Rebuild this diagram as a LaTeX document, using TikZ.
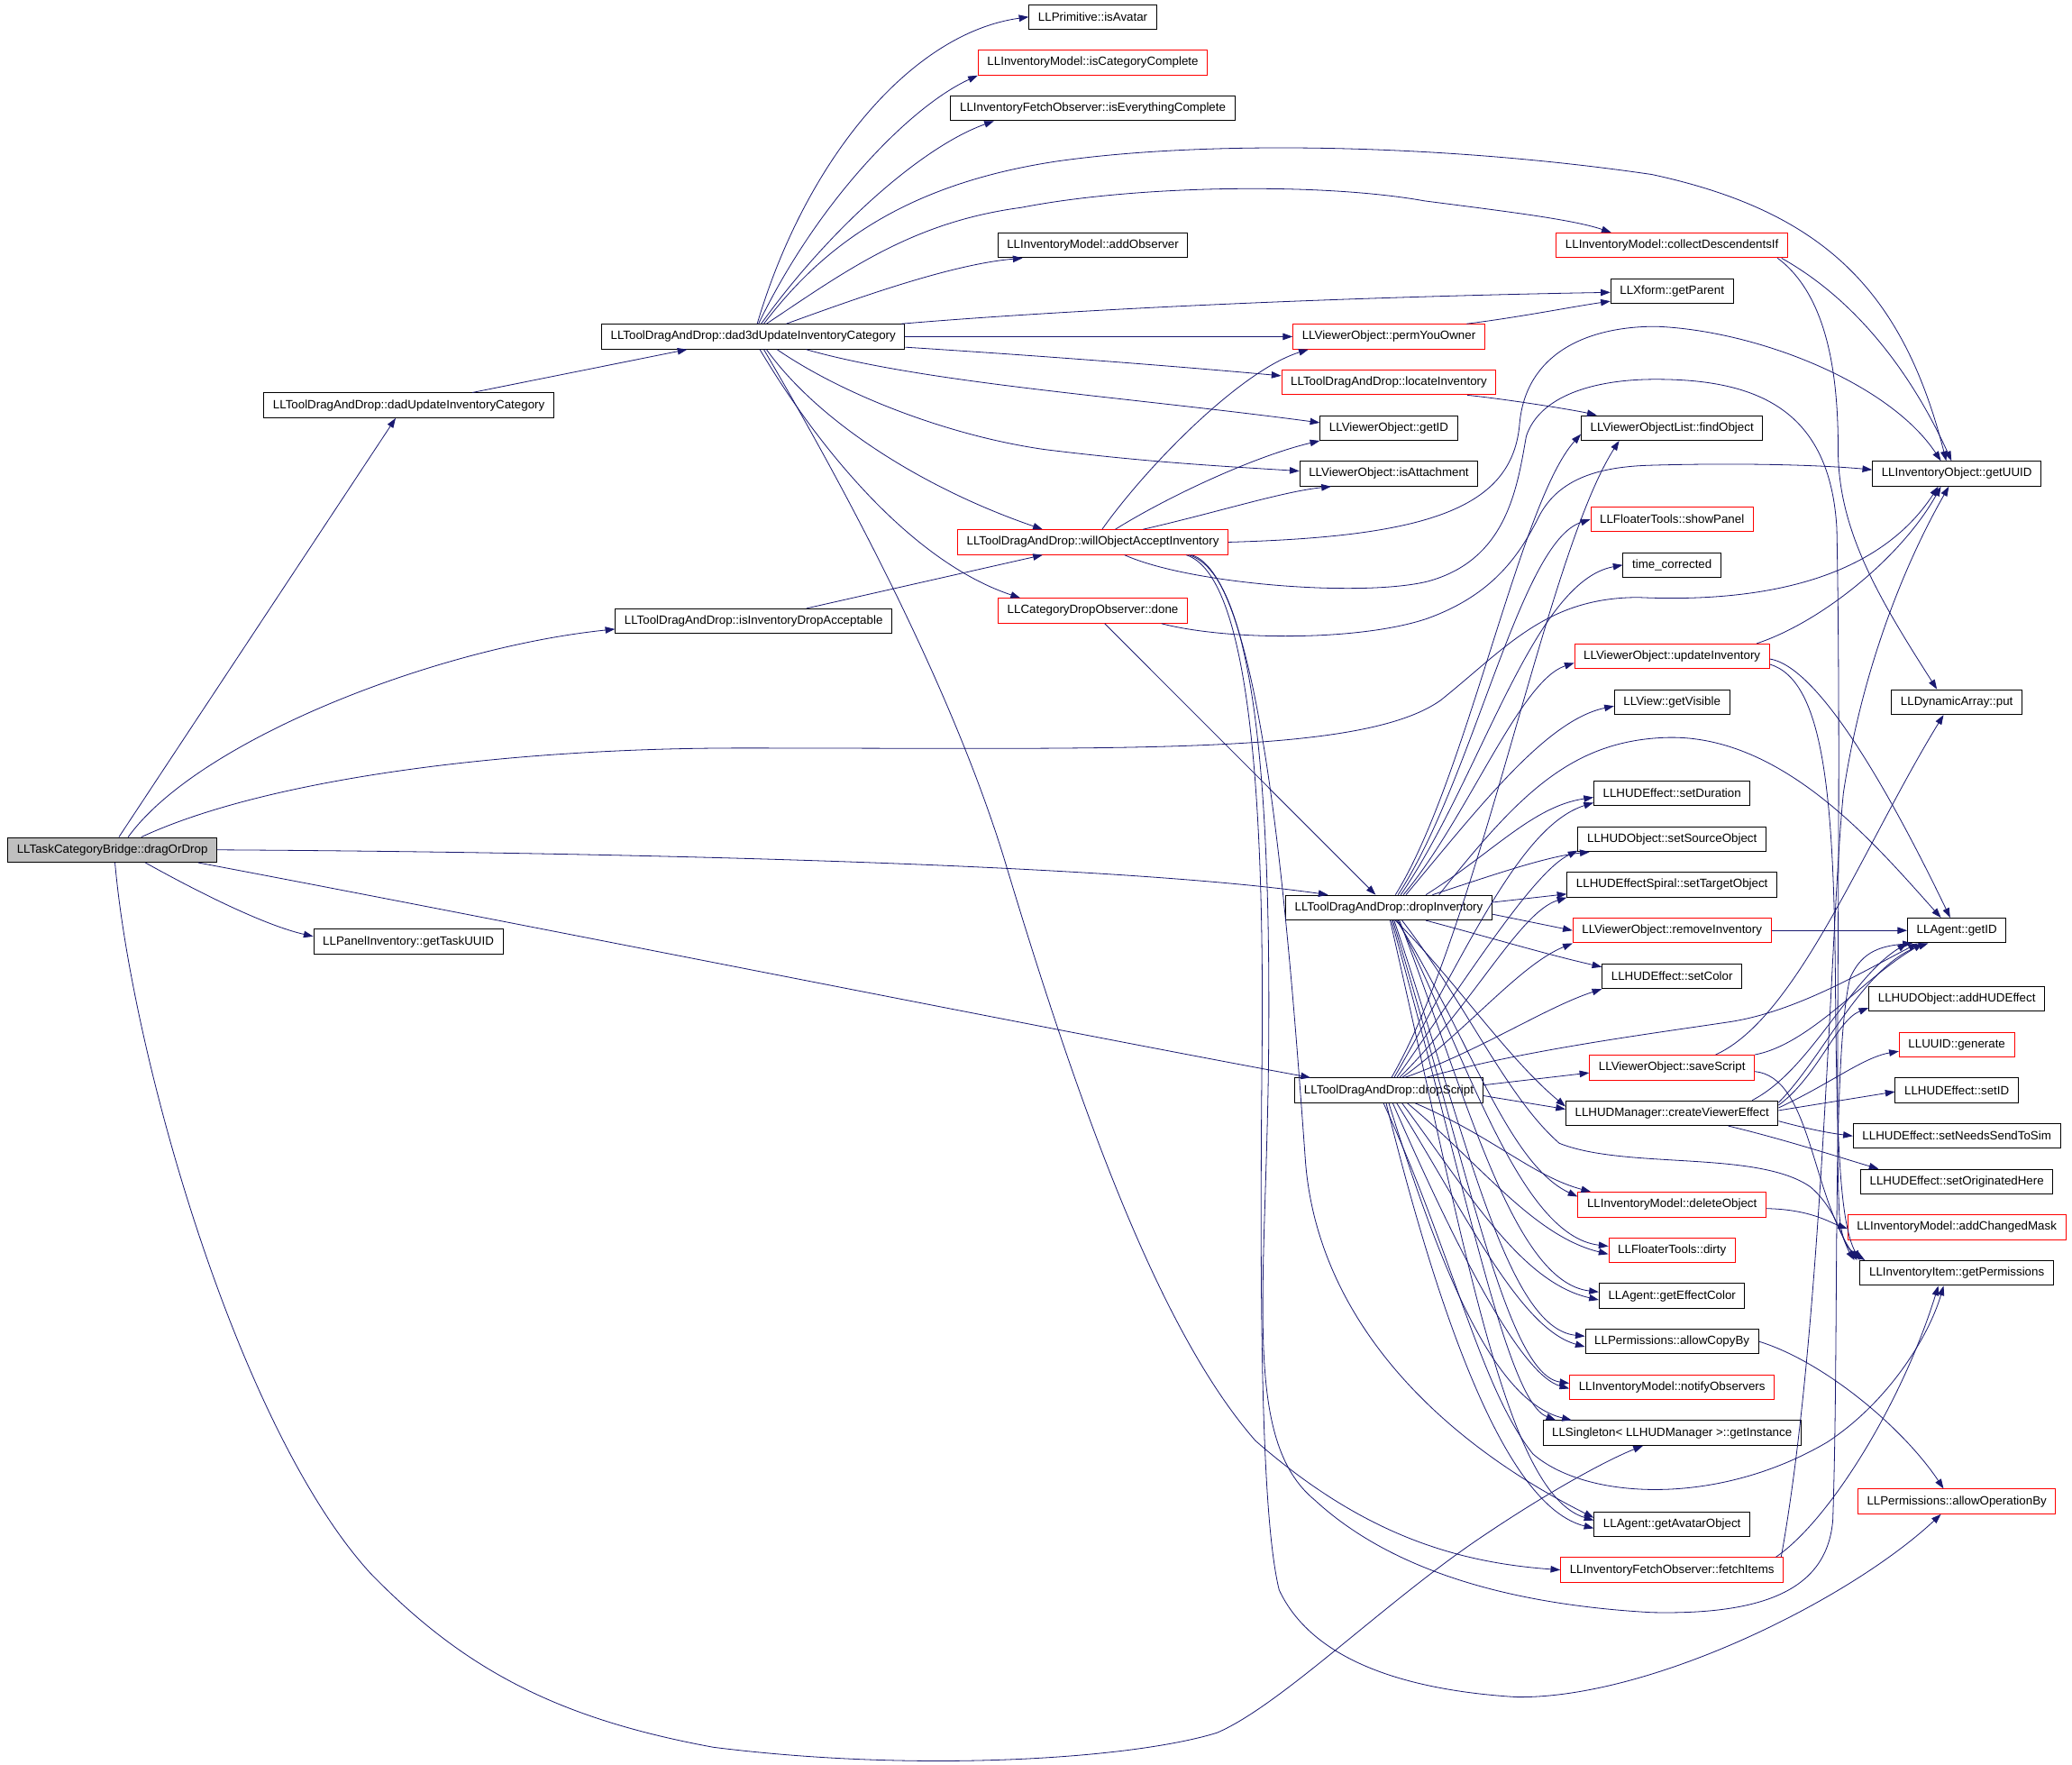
\documentclass[tikz,border=0pt]{standalone}
\usepackage{fontspec}
\setmainfont{Liberation Sans}
\usetikzlibrary{arrows.meta,calc}
\definecolor{edgeblue}{HTML}{191970}
\definecolor{rootgray}{HTML}{BFBFBF}
\begin{document}
\begin{tikzpicture}[x=1.0997pt,y=-1.0997pt,
  fn/.style={draw=black, line width=0.75pt, font=\fontsize{10}{12}\selectfont, inner xsep=7.6pt, inner ysep=0pt, minimum height=20.6pt, anchor=center},
  fnr/.style={fn, draw=red},
  rootfn/.style={fn, fill=rootgray},
  e/.style={draw=edgeblue, line width=0.6pt, -{Triangle[length=8pt,width=5.6pt]}}]
\fill[white] (0,0) rectangle (1568,1335);
\path[use as bounding box] (0,0) rectangle (1568,1335);
% ---------------- nodes
\node[rootfn] (dragOrDrop) at (85,643) {LLTaskCategoryBridge::dragOrDrop};
\node[fn] (dadUpd) at (309.4,306.7) {LLToolDragAndDrop::dadUpdateInventoryCategory};
\node[fn] (dad3d) at (570,254.7) {LLToolDragAndDrop::dad3dUpdateInventoryCategory};
\node[fn] (isDropAcc) at (570.3,470) {LLToolDragAndDrop::isInventoryDropAcceptable};
\node[fn] (taskUUID) at (309,712.5) {LLPanelInventory::getTaskUUID};
% column 3
\node[fn] (isAvatar) at (827,12.8) {LLPrimitive::isAvatar};
\node[fnr] (isCatComp) at (827,47.4) {LLInventoryModel::isCategoryComplete};
\node[fn] (isEvery) at (827,81.9) {LLInventoryFetchObserver::isEverythingComplete};
\node[fn] (addObs) at (827,185.6) {LLInventoryModel::addObserver};
\node[fnr] (willObj) at (827,410.2) {LLToolDragAndDrop::willObjectAcceptInventory};
\node[fnr] (done) at (827,462.1) {LLCategoryDropObserver::done};
% column 4
\node[fnr] (permYou) at (1051,254.7) {LLViewerObject::permYouOwner};
\node[fnr] (locateInv) at (1051,289.3) {LLToolDragAndDrop::locateInventory};
\node[fn] (voGetID) at (1051,323.8) {LLViewerObject::getID};
\node[fn] (isAttach) at (1051,358.4) {LLViewerObject::isAttachment};
\node[fn] (dropInv) at (1051,686.7) {LLToolDragAndDrop::dropInventory};
\node[fn] (dropScr) at (1051,825) {LLToolDragAndDrop::dropScript};
% column 5
\node[fnr] (collect) at (1265.3,185.6) {LLInventoryModel::collectDescendentsIf};
\node[fn] (getParent) at (1265.3,220.2) {LLXform::getParent};
\node[fn] (findObj) at (1265.3,323.8) {LLViewerObjectList::findObject};
\node[fnr] (showPanel) at (1265.3,393) {LLFloaterTools::showPanel};
\node[fn] (timeCorr) at (1265.3,427.5) {time\_corrected};
\node[fnr] (updInv) at (1265.3,496.6) {LLViewerObject::updateInventory};
\node[fn] (getVis) at (1265.3,531.2) {LLView::getVisible};
\node[fn] (setDur) at (1265.3,600.3) {LLHUDEffect::setDuration};
\node[fn] (setSrc) at (1265.3,634.9) {LLHUDObject::setSourceObject};
\node[fn] (setTgt) at (1265.3,669.4) {LLHUDEffectSpiral::setTargetObject};
\node[fnr] (remInv) at (1265.3,704) {LLViewerObject::removeInventory};
\node[fn] (setColor) at (1265.3,738.6) {LLHUDEffect::setColor};
\node[fnr] (saveScr) at (1265.3,807.7) {LLViewerObject::saveScript};
\node[fn] (createVE) at (1265.3,842.2) {LLHUDManager::createViewerEffect};
\node[fnr] (delObj) at (1265.3,911.4) {LLInventoryModel::deleteObject};
\node[fnr] (dirty) at (1265.3,945.9) {LLFloaterTools::dirty};
\node[fn] (effColor) at (1265.3,980.5) {LLAgent::getEffectColor};
\node[fn] (allowCopy) at (1265.3,1015) {LLPermissions::allowCopyBy};
\node[fnr] (notify) at (1265.3,1049.6) {LLInventoryModel::notifyObservers};
\node[fn] (getInst) at (1265.3,1084.2) {LLSingleton< LLHUDManager >::getInstance};
\node[fn] (avatarObj) at (1265.3,1153.3) {LLAgent::getAvatarObject};
\node[fnr] (fetch) at (1265.3,1187.8) {LLInventoryFetchObserver::fetchItems};
% column 6
\node[fn] (getUUID) at (1480.8,358.4) {LLInventoryObject::getUUID};
\node[fn] (put) at (1480.8,531.2) {LLDynamicArray::put};
\node[fn] (agentID) at (1480.8,704) {LLAgent::getID};
\node[fn] (addHUD) at (1480.8,755.8) {LLHUDObject::addHUDEffect};
\node[fnr] (generate) at (1480.8,790.4) {LLUUID::generate};
\node[fn] (setID) at (1480.8,825) {LLHUDEffect::setID};
\node[fn] (needsSend) at (1480.8,859.5) {LLHUDEffect::setNeedsSendToSim};
\node[fn] (origHere) at (1480.8,894.1) {LLHUDEffect::setOriginatedHere};
\node[fnr] (changed) at (1480.8,928.6) {LLInventoryModel::addChangedMask};
\node[fn] (getPerm) at (1480.8,963.2) {LLInventoryItem::getPermissions};
\node[fnr] (allowOp) at (1480.8,1136) {LLPermissions::allowOperationBy};
% ---------------- edges: root
\draw[e] ($(dragOrDrop.north)+(5,0)$) -- ($(dadUpd.south)+(-10,0)$);
\draw[e] ($(dragOrDrop.north)+(12,0)$) .. controls (150,560) and (330,490) .. ($(isDropAcc.west)+(0,6)$);
\draw[e] ($(dragOrDrop.north)+(22,0)$) .. controls (200,590) and (380,566) .. (560,566) .. controls (850,566) and (1030,572) .. (1090,530) .. controls (1140,490) and (1170,452) .. (1240,452) .. controls (1330,456) and (1420,440) .. ($(getUUID.south)+(-14,0)$);
\draw[e] (dragOrDrop.east) .. controls (500,645) and (850,655) .. ($(dropInv.north)+(-46,0)$);
\draw[e] ($(dragOrDrop.south)+(25,0)$) .. controls (150,675) and (200,700) .. ($(taskUUID.west)+(0,-4)$);
\draw[e] ($(dragOrDrop.south)+(65,0)$) .. controls (400,700) and (800,780) .. ($(dropScr.north west)+(12,0)$);
\draw[e] ($(dragOrDrop.south)+(2,0)$) .. controls (100,800) and (180,1080) .. (280,1190) .. controls (350,1262) and (420,1300) .. (540,1322) .. controls (700,1342) and (860,1330) .. (921,1311) .. controls (970,1290) and (1050,1210) .. (1124,1161) .. controls (1170,1130) and (1215,1105) .. ($(getInst.south)+(-22,0)$);
% dadUpd, isDropAcc
\draw[e] ($(dadUpd.north)+(48,0)$) -- ($(dad3d.south)+(-50,0)$);
\draw[e] ($(isDropAcc.north)+(40,0)$) -- ($(willObj.south)+(-38,0)$);
% dad3d
\draw[e] ($(dad3d.north)+(3,0)$) .. controls (610,120) and (690,25) .. (isAvatar.west);
\draw[e] ($(dad3d.north)+(4,0)$) .. controls (620,150) and (690,80) .. (isCatComp.south west);
\draw[e] ($(dad3d.north)+(6,0)$) .. controls (630,170) and (700,110) .. ($(isEvery.south west)+(33,0)$);
\draw[e] ($(dad3d.north)+(8,0)$) .. controls (620,190) and (680,140) .. (800,122) .. controls (920,105) and (1100,110) .. (1250,132) .. controls (1380,160) and (1440,220) .. ($(getUUID.north)+(-8,0)$);
\draw[e] ($(dad3d.north)+(10,0)$) .. controls (640,205) and (690,168) .. (773,157) .. controls (860,140) and (1000,138) .. (1078,152) .. controls (1140,160) and (1190,166) .. ($(collect.north)+(-46,0)$);
\draw[e] ($(dad3d.north)+(25,0)$) .. controls (650,225) and (720,200) .. ($(addObs.south west)+(19,0)$);
\draw[e] ($(dad3d.north east)+(-3,0)$) .. controls (800,235) and (1000,225) .. ($(getParent.west)+(0,1)$);
\draw[e] (dad3d.east) -- (permYou.west);
\draw[e] ($(dad3d.east)+(0,8)$) .. controls (800,270) and (900,278) .. ($(locateInv.west)+(0,-5)$);
\draw[e] ($(dad3d.south)+(40,0)$) .. controls (700,290) and (850,300) .. ($(voGetID.west)+(0,-4)$);
\draw[e] ($(dad3d.south)+(18,0)$) .. controls (640,300) and (720,330) .. (790,340) .. controls (870,350) and (930,353) .. ($(isAttach.west)+(0,-2)$);
\draw[e] ($(dad3d.south)+(10,0)$) .. controls (620,320) and (700,370) .. ($(willObj.north)+(-38,0)$);
\draw[e] ($(dad3d.south)+(5,0)$) .. controls (620,340) and (690,425) .. ($(done.north west)+(17,0)$);
\draw[e] ($(dad3d.south)+(8,0)$) .. controls (640,370) and (720,520) .. (760,650) .. controls (820,850) and (880,1010) .. (950,1090) .. controls (1030,1160) and (1100,1182) .. (fetch.west);
% willObj
\draw[e] ($(willObj.north)+(7,0)$) .. controls (870,350) and (940,280) .. ($(permYou.south west)+(12,0)$);
\draw[e] ($(willObj.north)+(17,0)$) .. controls (885,375) and (950,345) .. (voGetID.south west);
\draw[e] ($(willObj.north)+(38,0)$) .. controls (920,388) and (970,372) .. ($(isAttach.south west)+(24,0)$);
\draw[e] (willObj.east) .. controls (1080,406) and (1145,385) .. (1150,320) .. controls (1155,268) and (1200,247) .. (1253,247) .. controls (1330,250) and (1430,290) .. ($(getUUID.north)+(-12,0)$);
\draw[e] ($(willObj.south)+(24,0)$) .. controls (900,442) and (1030,452) .. (1080,440) .. controls (1140,424) and (1148,370) .. (1155,330) .. controls (1165,300) and (1205,287) .. (1253,287) .. controls (1330,287) and (1385,310) .. (1390,400) .. controls (1394,600) and (1388,850) .. (1392,920) .. controls (1394,940) and (1398,945) .. ($(getPerm.north west)+(4,0)$);
\draw[e] ($(willObj.south east)+(-32,0)$) .. controls (945,435) and (957,600) .. (955,800) .. controls (953,1000) and (955,1150) .. (968,1203) .. controls (990,1250) and (1050,1278) .. (1148,1284) .. controls (1250,1285) and (1400,1210) .. ($(allowOp.south)+(-12,0)$);
\draw[e] ($(willObj.south east)+(-30,0)$) .. controls (950,435) and (962,600) .. (960,800) .. controls (958,980) and (940,1090) .. (995,1135) .. controls (1060,1195) and (1160,1215) .. (1250,1220) .. controls (1340,1222) and (1383,1200) .. (1387,1150) .. controls (1392,1000) and (1386,800) .. (1400,740) .. controls (1408,722) and (1420,716) .. ($(agentID.south west)+(4,0)$);
\draw[e] ($(willObj.south east)+(-28,0)$) .. controls (955,435) and (975,700) .. (988,880) .. controls (998,1000) and (1090,1090) .. ($(avatarObj.west)+(0,-5)$);
% done
\draw[e] ($(done.south)+(9,0)$) -- ($(dropInv.north)+(-10,0)$);
\draw[e] ($(done.south east)+(-20,0)$) .. controls (930,485) and (1030,485) .. (1080,468) .. controls (1130,450) and (1150,420) .. (1165,390) .. controls (1180,362) and (1210,353) .. (1250,352) .. controls (1320,350) and (1380,352) .. ($(getUUID.west)+(0,-3)$);
% permYou, locateInv
\draw[e] ($(permYou.north east)+(-14,0)$) .. controls (1150,240) and (1190,232) .. ($(getParent.south west)+(0,-2)$);
\draw[e] ($(locateInv.south east)+(-22,0)$) .. controls (1140,302) and (1190,310) .. ($(findObj.north west)+(12,0)$);
% dropInv
\draw[e] ($(dropInv.north)+(5,0)$) .. controls (1110,590) and (1150,380) .. ($(findObj.south west)+(0,-5)$);
\draw[e] ($(dropInv.north)+(7,0)$) .. controls (1115,590) and (1150,410) .. (showPanel.west);
\draw[e] ($(dropInv.north)+(9,0)$) .. controls (1120,590) and (1160,440) .. (timeCorr.west);
\draw[e] ($(dropInv.north)+(11,0)$) .. controls (1110,620) and (1150,515) .. ($(updInv.west)+(0,5)$);
\draw[e] ($(dropInv.north)+(13,0)$) .. controls (1120,610) and (1170,545) .. ($(getVis.west)+(0,3)$);
\draw[e] ($(dropInv.north)+(28,0)$) .. controls (1130,645) and (1160,610) .. ($(setDur.west)+(0,3)$);
\draw[e] ($(dropInv.north)+(33,0)$) .. controls (1130,662) and (1170,648) .. ($(setSrc.south west)+(9,0)$);
\draw[e] ($(dropInv.north)+(38,0)$) .. controls (1150,600) and (1190,560) .. (1262,558) .. controls (1350,556) and (1420,640) .. ($(agentID.north)+(-12,0)$);
\draw[e] ($(dropInv.east)+(0,-4)$) -- ($(setTgt.west)+(0,7)$);
\draw[e] ($(dropInv.east)+(0,5)$) -- (remInv.west);
\draw[e] ($(dropInv.south)+(28,0)$) .. controls (1130,710) and (1170,722) .. ($(setColor.west)+(0,-7)$);
\draw[e] ($(dropInv.south)+(5,0)$) .. controls (1100,740) and (1140,800) .. ($(createVE.west)+(0,-5)$);
\draw[e] ($(dropInv.south)+(6,0)$) .. controls (1110,780) and (1140,880) .. ($(delObj.west)+(0,-6)$);
\draw[e] ($(dropInv.south)+(7,0)$) .. controls (1110,800) and (1150,935) .. ($(dirty.west)+(0,-3)$);
\draw[e] ($(dropInv.south)+(8,0)$) .. controls (1110,830) and (1145,970) .. ($(effColor.west)+(0,-3)$);
\draw[e] ($(dropInv.south)+(4,0)$) .. controls (1110,860) and (1140,1005) .. ($(allowCopy.west)+(0,-4)$);
\draw[e] ($(dropInv.south)+(3,0)$) .. controls (1110,880) and (1140,1040) .. ($(notify.west)+(0,-3)$);
\draw[e] ($(dropInv.south)+(2,0)$) .. controls (1110,900) and (1140,1060) .. ($(getInst.north west)+(10,0)$);
\draw[e] ($(dropInv.south)+(1,0)$) .. controls (1110,950) and (1140,1130) .. ($(avatarObj.west)+(0,-3)$);
\draw[e] ($(dropInv.south)+(10,0)$) .. controls (1110,760) and (1140,830) .. (1180,865) .. controls (1230,885) and (1330,870) .. (1370,898) .. controls (1390,915) and (1395,940) .. ($(getPerm.north west)+(-4,0)$);
% dropScr
\draw[e] ($(dropScr.north)+(2,0)$) .. controls (1120,700) and (1170,420) .. ($(findObj.south west)+(29,0)$);
\draw[e] ($(dropScr.north)+(4,0)$) .. controls (1110,720) and (1150,625) .. ($(setDur.west)+(0,7)$);
\draw[e] ($(dropScr.north)+(6,0)$) .. controls (1110,740) and (1160,660) .. ($(setSrc.south west)+(0,-1)$);
\draw[e] ($(dropScr.north)+(8,0)$) .. controls (1115,760) and (1150,690) .. (setTgt.south west);
\draw[e] ($(dropScr.north)+(10,0)$) .. controls (1110,780) and (1150,730) .. (remInv.south west);
\draw[e] ($(dropScr.north)+(12,0)$) .. controls (1120,795) and (1170,762) .. (setColor.south west);
\draw[e] ($(dropScr.north)+(28,0)$) .. controls (1150,795) and (1250,782) .. (1310,773) .. controls (1360,765) and (1410,735) .. ($(agentID.south west)+(8,0)$);
\draw[e] ($(dropScr.east)+(0,-4)$) -- ($(saveScr.west)+(0,4)$);
\draw[e] ($(dropScr.east)+(0,4)$) -- ($(createVE.west)+(0,-3)$);
\draw[e] ($(dropScr.south)+(20,0)$) .. controls (1130,860) and (1160,890) .. ($(delObj.north west)+(10,0)$);
\draw[e] ($(dropScr.south)+(14,0)$) .. controls (1120,880) and (1160,935) .. ($(dirty.west)+(0,3)$);
\draw[e] ($(dropScr.south)+(10,0)$) .. controls (1110,900) and (1150,970) .. ($(effColor.west)+(0,3)$);
\draw[e] ($(dropScr.south)+(6,0)$) .. controls (1110,920) and (1150,1005) .. ($(allowCopy.west)+(0,4)$);
\draw[e] ($(dropScr.south)+(3,0)$) .. controls (1100,940) and (1150,1040) .. ($(notify.west)+(0,1)$);
\draw[e] (dropScr.south) .. controls (1090,960) and (1130,1060) .. ($(getInst.north west)+(22,0)$);
\draw[e] ($(dropScr.south)+(-2,0)$) .. controls (1090,1000) and (1140,1140) .. ($(avatarObj.west)+(0,3)$);
\draw[e] ($(dropScr.south)+(-4,0)$) .. controls (1100,950) and (1120,1050) .. (1160,1100) .. controls (1200,1135) and (1300,1140) .. (1383,1091) .. controls (1430,1060) and (1460,1010) .. ($(getPerm.south)+(-10,0)$);
% createVE
\draw[e] ($(createVE.east)+(0,-6)$) .. controls (1375,815) and (1390,772) .. ($(addHUD.south west)+(0,-3)$);
\draw[e] ($(createVE.east)+(0,-4)$) .. controls (1385,820) and (1410,800) .. ($(generate.west)+(0,5)$);
\draw[e] ($(createVE.east)+(0,-2)$) -- ($(setID.west)+(0,1)$);
\draw[e] ($(createVE.east)+(0,6)$) .. controls (1375,856) and (1390,858) .. (needsSend.west);
\draw[e] ($(createVE.south east)+(-38,0)$) .. controls (1350,862) and (1390,875) .. ($(origHere.north west)+(14,0)$);
\draw[e] ($(createVE.north east)+(-20,0)$) .. controls (1370,810) and (1400,740) .. (agentID.south west);
\draw[e] ($(createVE.east)+(0,-8)$) .. controls (1380,800) and (1410,730) .. ($(agentID.south west)+(16,0)$);
% saveScr
\draw[e] ($(saveScr.north)+(33,0)$) .. controls (1360,770) and (1410,640) .. ($(put.south)+(-10,0)$);
\draw[e] (saveScr.north east) .. controls (1370,790) and (1410,740) .. ($(agentID.south west)+(12,0)$);
\draw[e] ($(saveScr.east)+(0,3)$) .. controls (1370,815) and (1370,900) .. ($(getPerm.north west)+(-2,0)$);
% updInv
\draw[e] ($(updInv.north east)+(-10,0)$) .. controls (1380,470) and (1440,420) .. ($(getUUID.south)+(-12,0)$);
\draw[e] ($(updInv.east)+(0,2)$) .. controls (1380,505) and (1440,620) .. ($(agentID.north)+(-5,0)$);
\draw[e] ($(updInv.east)+(0,6)$) .. controls (1380,515) and (1388,600) .. (1389,750) .. controls (1390,860) and (1392,925) .. (getPerm.north west);
% misc
\draw[e] (remInv.east) -- (agentID.west);
\draw[e] ($(delObj.east)+(0,3)$) .. controls (1370,915) and (1385,925) .. ($(changed.west)+(0,1)$);
\draw[e] (allowCopy.east) .. controls (1380,1030) and (1440,1080) .. ($(allowOp.north)+(-10,0)$);
\draw[e] ($(collect.south east)+(-5,0)$) .. controls (1410,230) and (1450,290) .. ($(getUUID.north)+(-4,0)$);
\draw[e] ($(collect.south east)+(-8,0)$) .. controls (1385,225) and (1391,290) .. (1391,340) .. controls (1391,400) and (1420,450) .. ($(put.north)+(-15,0)$);
\draw[e] ($(fetch.north east)+(-6,0)$) .. controls (1385,1150) and (1440,1060) .. ($(getPerm.south)+(-14,0)$);
\draw[e] ($(fetch.north east)+(-2,0)$) .. controls (1380,1000) and (1385,700) .. (1395,600) .. controls (1410,500) and (1445,420) .. ($(getUUID.south)+(-6,0)$);
\end{tikzpicture}
\end{document}
